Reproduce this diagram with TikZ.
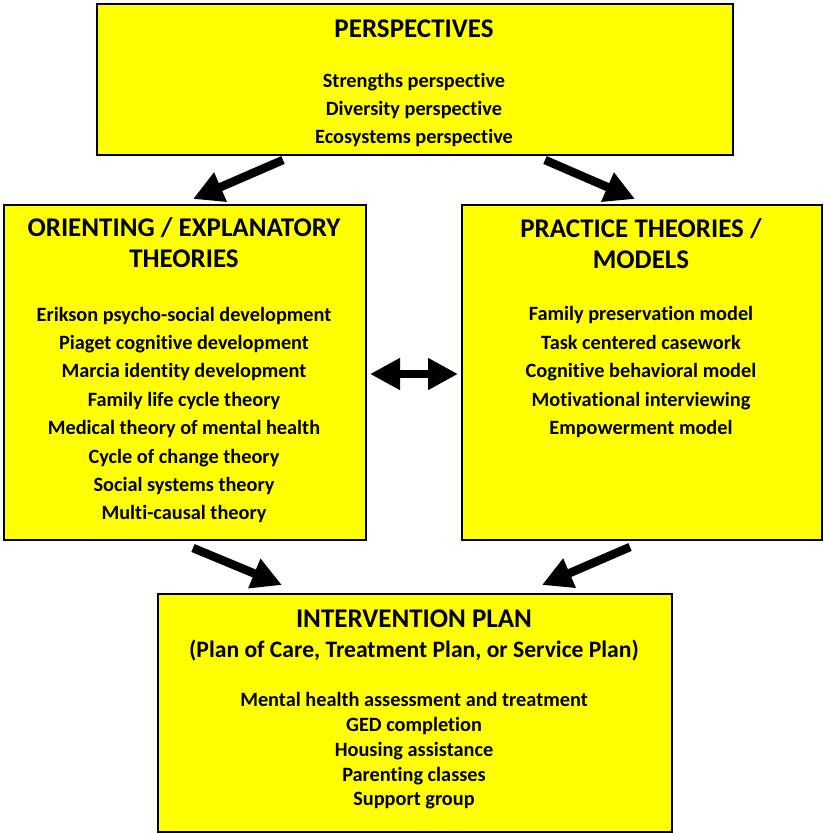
\documentclass[tikz,border=0pt]{standalone}
\usepackage{fontspec}
\setmainfont{Carlito}[Ligatures={NoCommon}]
\usetikzlibrary{arrows.meta}
\definecolor{boxyellow}{RGB}{255,255,0}
\begin{document}
\begin{tikzpicture}[x=1pt,y=-1pt,
  box/.style={draw=black,line width=1.8pt,fill=boxyellow,inner sep=0pt,anchor=north west},
  ttl/.style={anchor=base,inner sep=0pt,font=\fontsize{27}{30}\selectfont\bfseries},
  sttl/.style={anchor=base,inner sep=0pt,font=\fontsize{23.6}{26}\selectfont\bfseries},
  itm/.style={anchor=base,inner sep=0pt,font=\fontsize{20.3}{23}\selectfont\bfseries},
  bigarrow/.style={line width=8.5pt,-{Triangle[length=30pt,width=30pt]}},
  dblarrow/.style={line width=8.5pt,{Triangle[length=30pt,width=30pt]}-{Triangle[length=30pt,width=30pt]}}
]
\useasboundingbox (0,0) rectangle (823,833);
% boxes
\node[box,minimum width=636pt,minimum height=151pt] (persp) at (96,3) {};
\node[box,minimum width=362pt,minimum height=335pt] (orient) at (3,204) {};
\node[box,minimum width=360pt,minimum height=335pt] (pract) at (461,204) {};
\node[box,minimum width=514pt,minimum height=238pt] (plan) at (157,593) {};
% perspectives text
\node[ttl] (pt) at (414,37) {PERSPECTIVES};
\node[itm] (p1) at (414,87) {Strengths perspective};
\node[itm] (p2) at (414,115) {Diversity perspective};
\node[itm] (p3) at (414,143) {Ecosystems perspective};
% orienting text
\node[ttl] (ot1) at (184,236) {ORIENTING / EXPLANATORY};
\node[ttl] (ot2) at (184,267) {THEORIES};
\node[itm] (o1) at (184,321) {Erikson psycho-social development};
\node[itm] (o2) at (184,349) {Piaget cognitive development};
\node[itm] (o3) at (184,377) {Marcia identity development};
\node[itm] (o4) at (184,406) {Family life cycle theory};
\node[itm] (o5) at (184,434) {Medical theory of mental health};
\node[itm] (o6) at (184,463) {Cycle of change theory};
\node[itm] (o7) at (184,491) {Social systems theory};
\node[itm] (o8) at (184,519) {Multi-causal theory};
% practice text
\node[ttl] (rt1) at (641,237) {PRACTICE THEORIES /};
\node[ttl] (rt2) at (641,268) {MODELS};
\node[itm] (r1) at (641,320) {Family preservation model};
\node[itm] (r2) at (641,349) {Task centered casework};
\node[itm] (r3) at (641,377) {Cognitive behavioral model};
\node[itm] (r4) at (641,406) {Motivational interviewing};
\node[itm] (r5) at (641,434) {Empowerment model};
% plan text
\node[ttl] (bt1) at (414,627) {INTERVENTION PLAN};
\node[sttl] (bt2) at (414,657) {(Plan of Care, Treatment Plan, or Service Plan)};
\node[itm] (b1) at (414,706) {Mental health assessment and treatment};
\node[itm] (b2) at (414,731) {GED completion};
\node[itm] (b3) at (414,756) {Housing assistance};
\node[itm] (b4) at (414,781) {Parenting classes};
\node[itm] (b5) at (414,805) {Support group};
% arrow end points
\coordinate (a1s) at (283,160);
\coordinate (a1e) at (193,199);
\coordinate (a2s) at (545,160);
\coordinate (a2e) at (635,199);
\coordinate (a3s) at (370,374);
\coordinate (a3e) at (458,374);
\coordinate (a4s) at (193,548);
\coordinate (a4e) at (282,585);
\coordinate (a5s) at (630,547);
\coordinate (a5e) at (542,585);
\draw[bigarrow] (a1s) -- (a1e);
\draw[bigarrow] (a2s) -- (a2e);
\draw[dblarrow] (a3s) -- (a3e);
\draw[bigarrow] (a4s) -- (a4e);
\draw[bigarrow] (a5s) -- (a5e);
\end{tikzpicture}
\end{document}
